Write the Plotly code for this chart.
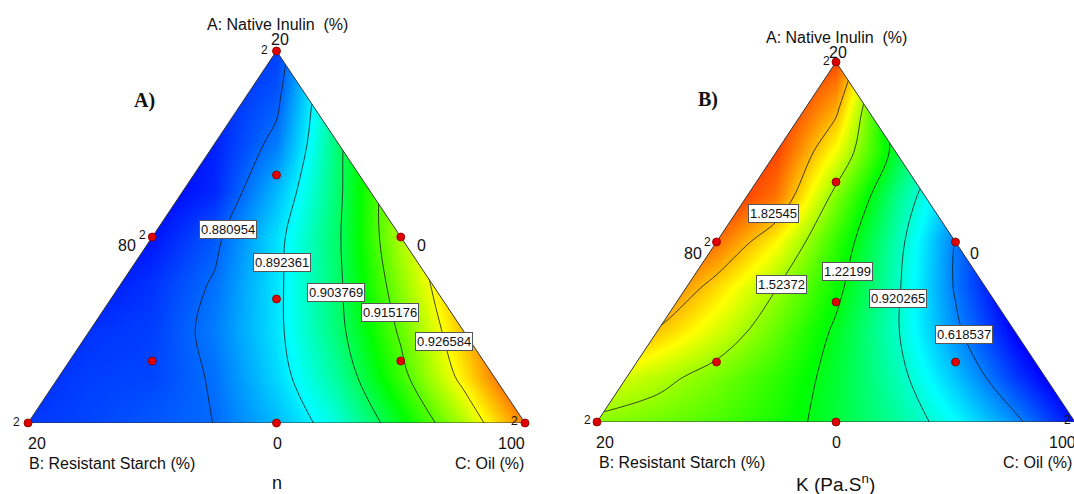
import plotly.graph_objects as go

W, H = 1074, 494

# ---------------- data ----------------
# grid in triangle coordinates: X = horizontal (B vertex 0 -> C vertex 1), Y = height (A fraction)
grid_x = [0, 0.125, 0.25, 0.375, 0.5, 0.625, 0.75, 0.875, 1.0]
grid_y = [0, 0.125, 0.25, 0.375, 0.5, 0.625, 0.75, 0.875, 1.0]

# panel A: flow behaviour index n (rows = grid_y, cols = grid_x)
n_values = [
    [0.877, 0.878, 0.8795, 0.881, 0.8875, 0.8957, 0.9076, 0.9212, 0.937],
    [0.876, 0.8775, 0.878, 0.8815, 0.890, 0.8997, 0.9132, 0.9285, 0.945],
    [0.874, 0.8765, 0.8775, 0.8825, 0.891, 0.9022, 0.9162, 0.932, 0.948],
    [0.872, 0.874, 0.8765, 0.8815, 0.891, 0.9027, 0.919, 0.935, 0.951],
    [0.870, 0.872, 0.874, 0.8795, 0.8906, 0.9031, 0.9215, 0.937, 0.953],
    [0.870, 0.871, 0.872, 0.8755, 0.8874, 0.9025, 0.922, 0.938, 0.954],
    [0.870, 0.871, 0.872, 0.875, 0.8825, 0.9025, 0.920, 0.937, 0.953],
    [0.870, 0.871, 0.872, 0.8755, 0.8795, 0.9015, 0.918, 0.935, 0.951],
    [0.870, 0.871, 0.873, 0.875, 0.8775, 0.897, 0.915, 0.932, 0.948],
]

# panel B: consistency index K (Pa.S^n)
k_values = [
    [1.49, 1.445, 1.38, 1.29, 1.16, 1.01, 0.85, 0.65, 0.42],
    [1.67, 1.575, 1.46, 1.33, 1.17, 0.97, 0.74, 0.50, 0.30],
    [2.00, 1.81, 1.627, 1.424, 1.195, 0.938, 0.647, 0.40, 0.20],
    [2.15, 2.00, 1.768, 1.53, 1.265, 0.949, 0.605, 0.33, 0.10],
    [2.30, 2.15, 1.98, 1.707, 1.333, 0.975, 0.61, 0.30, 0.05],
    [2.35, 2.25, 2.15, 1.97, 1.468, 1.039, 0.70, 0.35, 0.10],
    [2.35, 2.30, 2.20, 2.07, 1.677, 1.166, 0.80, 0.45, 0.20],
    [2.35, 2.30, 2.20, 2.15, 1.87, 1.10, 0.85, 0.55, 0.30],
    [2.35, 2.30, 2.20, 2.15, 2.06, 1.30, 0.90, 0.60, 0.40],
]

n_levels = [0.880954, 0.892361, 0.903769, 0.915176, 0.926584]
k_levels = [0.618537, 0.920265, 1.22199, 1.52372, 1.82545]

# design points (pseudo-component fractions of A, B, C)
design_A = [1, 0, 0, 0.5, 0.5, 0, 2/3, 1/6, 1/6, 1/3]
design_B = [0, 1, 0, 0.5, 0, 0.5, 1/6, 2/3, 1/6, 1/3]
design_C = [0, 0, 1, 0, 0.5, 0.5, 1/6, 1/6, 2/3, 1/3]

# ---------------- styling ----------------
COLORS = ['rgb(0,0,255)', 'rgb(0,255,255)', 'rgb(0,255,0)', 'rgb(255,255,0)', 'rgb(255,0,0)']
n_color_stops = [0.8725, 0.893, 0.909, 0.927, 0.947]
k_color_stops = [0.40, 0.85, 1.25, 1.70, 2.20]
FONT = 'Liberation Sans, Arial, sans-serif'


def make_scale(stops):
    lo, hi = stops[0], stops[-1]
    return [[(s - lo) / (hi - lo), c] for s, c in zip(stops, COLORS)]


dx = [c + a / 2 for a, c in zip(design_A, design_C)]
dy = list(design_A)

panels = [
    dict(x='x', y='y', z=n_values, lev=n_levels, stops=n_color_stops,
         px0=28, px1=525, py_top=51, py_bot=423),
    dict(x='x2', y='y2', z=k_values, lev=k_levels, stops=k_color_stops,
         px0=597, px1=1075, py_top=62, py_bot=422),
]

fig = go.Figure()
layout_axes = {}
for i, p in enumerate(panels):
    xa, ya = p['x'], p['y']
    lev = p['lev']
    step = (lev[-1] - lev[0]) / (len(lev) - 1)
    fig.add_trace(go.Heatmap(x=grid_x, y=grid_y, z=p['z'], zsmooth='best',
                             colorscale=make_scale(p['stops']), zmin=p['stops'][0], zmax=p['stops'][-1],
                             showscale=False, hoverinfo='skip', xaxis=xa, yaxis=ya))
    fig.add_trace(go.Contour(x=grid_x, y=grid_y, z=p['z'], autocontour=False,
                             contours=dict(start=lev[0], end=lev[-1] + step * 0.01, size=step,
                                           coloring='none'),
                             line=dict(color='#1a1a1a', width=0.8, smoothing=1.0),
                             showscale=False, hoverinfo='skip', xaxis=xa, yaxis=ya))
    # white masks outside the triangle
    for mx in ([-0.05, 0, 0.5, 0.5, -0.05, -0.05], [1.05, 1, 0.5, 0.5, 1.05, 1.05]):
        fig.add_trace(go.Scatter(x=mx, y=[0, 0, 1, 1.05, 1.05, 0], mode='lines',
                                 fill='toself', fillcolor='white', line=dict(width=0, color='white'),
                                 hoverinfo='skip', showlegend=False, xaxis=xa, yaxis=ya))
    fig.add_trace(go.Scatter(x=[0, 1, 0.5, 0], y=[0, 0, 1, 0], mode='lines',
                             line=dict(color='#333333', width=1), cliponaxis=False,
                             hoverinfo='skip', showlegend=False, xaxis=xa, yaxis=ya))
    fig.add_trace(go.Scatter(x=dx, y=dy, mode='markers', cliponaxis=False,
                             marker=dict(size=8, color='#e00000', line=dict(color='#7a0000', width=0.8)),
                             hoverinfo='skip', showlegend=False, xaxis=xa, yaxis=ya))
    xr = (min(p['px1'], W) - p['px0']) / (p['px1'] - p['px0'])
    suffix = '' if i == 0 else '2'
    layout_axes['xaxis' + suffix] = dict(domain=[p['px0'] / W, min(p['px1'], W) / W], range=[0, xr],
                                        visible=False, fixedrange=True, anchor=ya)
    layout_axes['yaxis' + suffix] = dict(domain=[1 - p['py_bot'] / H, 1 - p['py_top'] / H], range=[0, 1],
                                        visible=False, fixedrange=True, anchor=xa)

annotations = []


def txt(text, px, py, size=16, xanchor='center', family=FONT, bold=False, box=False):
    a = dict(text=('<b>%s</b>' % text) if bold else text, x=px / W, y=1 - py / H,
             xref='paper', yref='paper', showarrow=False, xanchor=xanchor, yanchor='middle',
             font=dict(family=family, size=size, color='#111111'))
    if box:
        a.update(bgcolor='white', bordercolor='#555555', borderwidth=1, borderpad=1)
    annotations.append(a)


title_a = 'A: Native Inulin \u00a0(%)'
# panel A labels
txt(title_a, 277, 25)
txt('20', 280, 40)
txt('2', 264, 50, 12)
txt('80', 127, 246)
txt('2', 142, 235, 12)
txt('0', 421, 246)
txt('20', 37, 443)
txt('0', 277, 443)
txt('100', 511, 443)
txt('B: Resistant Starch (%)', 27, 463, xanchor='left')
txt('C: Oil (%)', 526, 463, xanchor='right')
txt('2', 16, 422, 12)
txt('2', 514, 421, 12)
txt('n', 277, 483, 18)
txt('A)', 144, 100, 20, family='Liberation Serif, Times New Roman, serif', bold=True)
for lab, (px, py) in zip(n_levels, [(228, 229), (282, 262), (336, 292), (390, 312), (444, 341)]):
    txt('%.6f' % lab, px, py, 13, box=True)

# panel B labels
txt(title_a, 836, 38)
txt('20', 838, 52)
txt('2', 826, 61, 12)
txt('80', 693, 253)
txt('2', 707, 242, 12)
txt('0', 974, 253)
txt('20', 605, 442)
txt('0', 836, 442)
txt('100', 1062, 442)
txt('B: Resistant Starch (%)', 597, 462, xanchor='left')
txt('C: Oil (%)', 1074, 462, xanchor='right')
txt('2', 587, 420, 12)
txt('2', 1067, 420, 12)
txt('K (Pa.S<sup>n</sup>)', 835, 483, 19)
txt('B)', 708, 99, 20, family='Liberation Serif, Times New Roman, serif', bold=True)
k_label_pos = [(964, 334), (898, 298), (847, 271), (781, 284), (773, 213)]
for lab, (px, py) in zip(k_levels, k_label_pos):
    txt(('%.6f' % lab) if lab < 1 else ('%.5f' % lab), px, py, 13, box=True)

fig.update_layout(width=W, height=H, margin=dict(l=0, r=0, t=0, b=0),
                  paper_bgcolor='white', plot_bgcolor='white', showlegend=False,
                  annotations=annotations, **layout_axes)

fig.write_html('out.html', config={'displayModeBar': False},
               post_script="document.body.style.margin='0px';document.body.style.overflow='hidden';")
